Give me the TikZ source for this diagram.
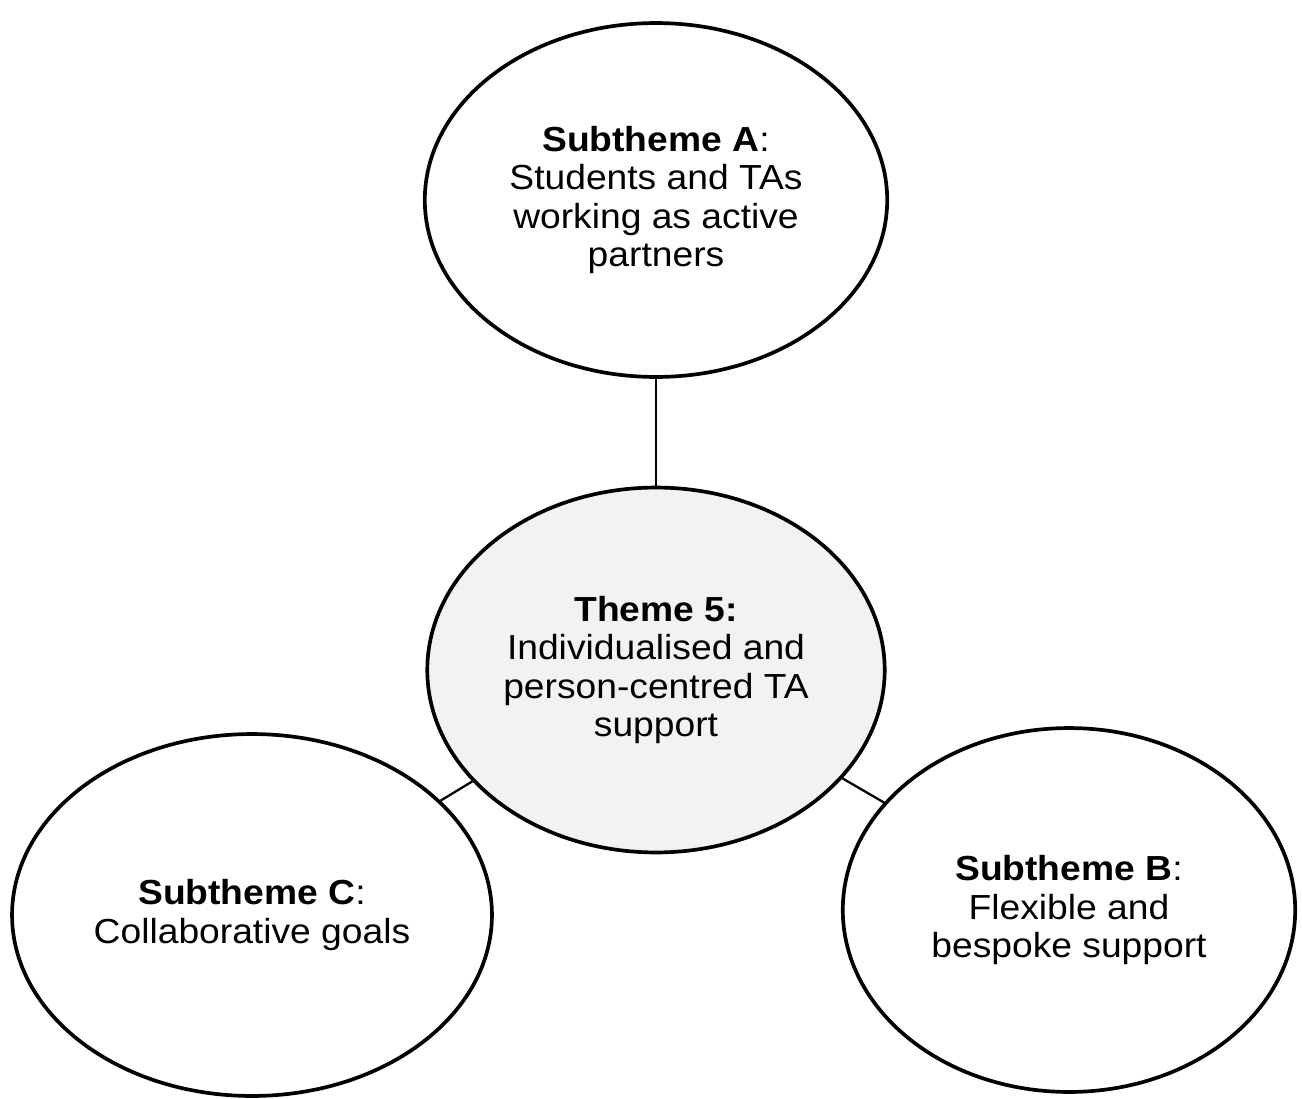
\documentclass[tikz,border=0pt]{standalone}
\usepackage{fontspec}
\setmainfont{Liberation Sans}[FakeStretch=1.07]
\usetikzlibrary{shapes.geometric}
\definecolor{themegrey}{HTML}{F2F2F2}
\begin{document}
\begin{tikzpicture}[x=0.02cm,y=-0.02cm]
\tikzstyle{bubble}=[ellipse, draw=black, line width=2.1pt, inner sep=0pt, align=center, font=\fontsize{19.8}{22}\selectfont]
\tikzstyle{link}=[draw=black, line width=1.3pt]
\useasboundingbox (0,0) rectangle (1302,1099);
% theme in the middle
\node [bubble, fill=themegrey, minimum width=9.15cm, minimum height=7.3cm] (theme) at (656,670)
  {\textbf{Theme 5:}\\Individualised and\\person-centred TA\\support};
% subthemes
\node [bubble, minimum width=9.25cm, minimum height=7.08cm] (subA) at (656,200)
  {\textbf{Subtheme A}:\\Students and TAs\\working as active\\partners};
\node [bubble, minimum width=9.6cm, minimum height=7.24cm] (subC) at (252,915)
  {\textbf{Subtheme C}:\\Collaborative goals};
\node [bubble, minimum width=9.05cm, minimum height=7.28cm] (subB) at (1069,910)
  {\textbf{Subtheme B}:\\Flexible and\\bespoke support};
\draw [link] (theme) -- (subA);
\draw [link] (theme) -- (subC);
\draw [link] (theme) -- (subB);
\end{tikzpicture}
\end{document}
